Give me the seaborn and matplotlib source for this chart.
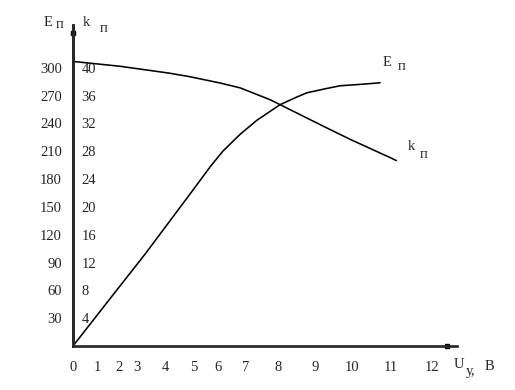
import numpy as np
import pandas as pd
import matplotlib
matplotlib.use("Agg")
import matplotlib.pyplot as plt
import seaborn as sns

# ---- data ----
u_ticks = [0, 1, 2, 3, 4, 5, 6, 7, 8, 9, 10, 11, 12]
u_tick_labels = ["0", "1", "2", "3", "4", "5", "6", "7", "8", "9", "10", "11", "12"]
e_ticks = [30, 60, 90, 120, 150, 180, 210, 240, 270, 300]
k_ticks = [4, 8, 12, 16, 20, 24, 28, 32, 36, 40]

u_E = [0, 1.44, 3.32, 4.97, 5.67, 6.18, 6.79, 7.34, 8.05, 8.46, 8.78, 9.27, 9.68, 10.21, 10.72]
E_vals = [0, 46.4, 100.3, 168.3, 193.1, 210.2, 228.2, 243.3, 260, 267.5, 272.9, 277.2, 280.5, 282, 283.7]

u_k = [0, 2.06, 4.17, 4.86, 6.07, 6.79, 7.75, 8.05, 9.22, 9.95, 10.97, 11.13]
k_vals = [40.9, 40.2, 39.2, 38.7, 37.8, 37.1, 35.4, 34.7, 31.6, 29.7, 27.1, 26.65]

# layout of the hand-drawn (non-uniform) U axis: position of each U tick
u_pos = [0, 24, 46, 64, 92, 121, 145, 173, 205, 242, 279, 318, 359]

sns.set_style("white")
plt.rcParams["font.family"] = ["Liberation Serif", "DejaVu Serif"]

U_ext = np.array([-1] + u_ticks + [14], dtype=float)
P_ext = np.array([-24] + u_pos + [441], dtype=float)

def fwd(u):
    return np.interp(u, U_ext, P_ext)

def inv(p):
    return np.interp(p, P_ext, U_ext)

fig = plt.figure(figsize=(5.15, 3.9), dpi=100)
ax = fig.add_axes([73 / 515, 44 / 390, 384 / 515, 321 / 390])
ax.set_xscale("function", functions=(fwd, inv))
ax.set_xlim(0, inv(384))
ax.set_ylim(0, 346)

dfE = pd.DataFrame({"U": u_E, "E": E_vals})
sns.lineplot(data=dfE, x="U", y="E", ax=ax, color="black", lw=1.15, sort=False)

ax2 = ax.twinx()
ax2.set_ylim(0, 346 / 7.5)
dfk = pd.DataFrame({"U": u_k, "k": k_vals})
sns.lineplot(data=dfk, x="U", y="k", ax=ax2, color="black", lw=1.15, sort=False)

for a in (ax, ax2):
    a.set_xlabel("")
    a.set_ylabel("")
    a.spines["top"].set_visible(False)

ax.spines["right"].set_visible(False)
ax.spines["left"].set_linewidth(1.9)
ax.spines["bottom"].set_linewidth(1.9)
ax2.spines["left"].set_visible(False)
ax2.spines["bottom"].set_visible(False)
ax2.spines["right"].set_position(("axes", 0))
ax2.spines["right"].set_linewidth(1.9)

fs = 10.5
ax.set_xticks(u_ticks)
ax.set_xticklabels(u_tick_labels)
ax.set_yticks(e_ticks)
ax.set_yticklabels([str(v) for v in e_ticks])
ax.tick_params(axis="x", length=0, pad=11, labelsize=fs)
ax.tick_params(axis="y", length=0, pad=8, labelsize=fs)
ax2.set_yticks(k_ticks)
ax2.set_yticklabels([str(v) for v in k_ticks])
ax2.tick_params(axis="y", length=0, pad=6, labelsize=fs)
ax.xaxis.set_minor_locator(matplotlib.ticker.NullLocator())

# arrow markers on the axes
ax.plot([0], [337], marker="s", ms=3.5, color="black", clip_on=False,
        transform=ax.transData)
ax.plot([0.974], [0], marker="s", ms=3.5, color="black", clip_on=False,
        transform=ax.transAxes)

def ftxt(x, y, s, size=fs):
    fig.text(x / 515, 1 - y / 390, s, fontsize=size, ha="left", va="center")

ftxt(44, 23, "E")
ftxt(56, 25, "п")
ftxt(83, 23, "k")
ftxt(100, 28, "п")
ftxt(383, 62, "E")
ftxt(398, 67, "п")
ftxt(408, 146, "k")
ftxt(420, 155, "п")
ftxt(454, 365, "U")
ftxt(466, 371, "у,")
ftxt(485, 367, "В")

fig.savefig("out.png", dpi=100)
